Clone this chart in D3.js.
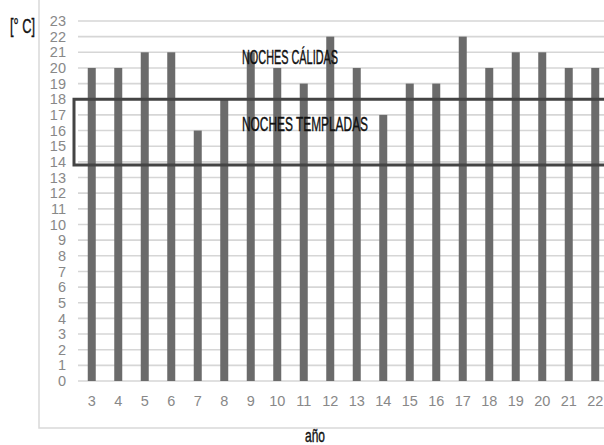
<!DOCTYPE html>
<html><head><meta charset="utf-8">
<script src="https://cdn.jsdelivr.net/npm/d3@7"></script>
<style>html,body{margin:0;padding:0;background:#fff;overflow:hidden}</style>
</head><body>
<svg id="c" width="604" height="445"></svg>
<script>
const years = ["3","4","5","6","7","8","9","10","11","12","13","14","15","16","17","18","19","20","21","22"];
const temps = [20,20,21,21,16,18,21,20,19,22,20,17,19,19,22,20,21,21,20,20];
const yTicks = d3.range(0, 24);
const zoneBounds = [13.8, 18];
const zoneLabels = ["NOCHES CÁLIDAS", "NOCHES TEMPLADAS"];
const yUnit = "[° C]";
const xTitle = "año";

const svg = d3.select("#c");
const font = "'Liberation Sans', Arial, sans-serif";
const narrow = "'Liberation Sans Narrow', 'Liberation Sans', Arial, sans-serif";

const x = d3.scaleBand().domain(years).range([78.5, 608.5]).paddingInner(0.698).paddingOuter(0.349);
const y = d3.scaleLinear().domain([0, 23]).range([381, 21]);

// outer frame
svg.append("rect").attr("x", 39).attr("y", -5).attr("width", 600).attr("height", 433)
  .attr("fill", "none").attr("stroke", "#d9d9d9").attr("stroke-width", 1.5);

// gridlines
svg.append("g").selectAll("line").data(yTicks).join("line")
  .attr("x1", 78).attr("x2", 610)
  .attr("y1", d => y(d)).attr("y2", d => y(d))
  .attr("stroke", "#d6d6d6").attr("stroke-width", 1.6);

// y axis labels
const ya = svg.append("g").attr("transform", "translate(66,0)")
  .call(d3.axisLeft(y).tickValues(yTicks).tickSize(0).tickPadding(0));
ya.select(".domain").remove();
ya.selectAll("text").attr("fill", "#888").attr("font-size", 14.5).attr("font-family", font);

// x axis labels
const xa = svg.append("g").attr("transform", "translate(0,396)")
  .call(d3.axisBottom(x).tickSize(0).tickPadding(0));
xa.select(".domain").remove();
xa.selectAll("text").attr("fill", "#888").attr("font-size", 14.5).attr("font-family", font);

// bars
svg.append("g").selectAll("rect").data(temps).join("rect")
  .attr("x", (d, i) => x(years[i])).attr("width", x.bandwidth())
  .attr("y", d => y(d)).attr("height", d => y(0) - y(d))
  .attr("fill", "#6b6b6b");

// zone box
svg.append("rect").attr("x", 74).attr("width", 540)
  .attr("y", y(zoneBounds[1])).attr("height", y(zoneBounds[0]) - y(zoneBounds[1]))
  .attr("fill", "none").attr("stroke", "#444").attr("stroke-width", 3);

function label(txt, xx, yy, size, len) {
  svg.append("text").attr("x", xx).attr("y", yy).text(txt)
    .attr("font-family", narrow).attr("font-size", size).attr("fill", "#111")
    .attr("stroke", "#111").attr("stroke-width", 0.4)
    .attr("textLength", len).attr("lengthAdjust", "spacingAndGlyphs");
}
label(zoneLabels[0], 242, 64, 20, 96);
label(zoneLabels[1], 242, 131, 20, 126);
label(yUnit, 10, 33, 20, 25);
label(xTitle, 305, 442, 18, 20);
</script>
</body></html>
